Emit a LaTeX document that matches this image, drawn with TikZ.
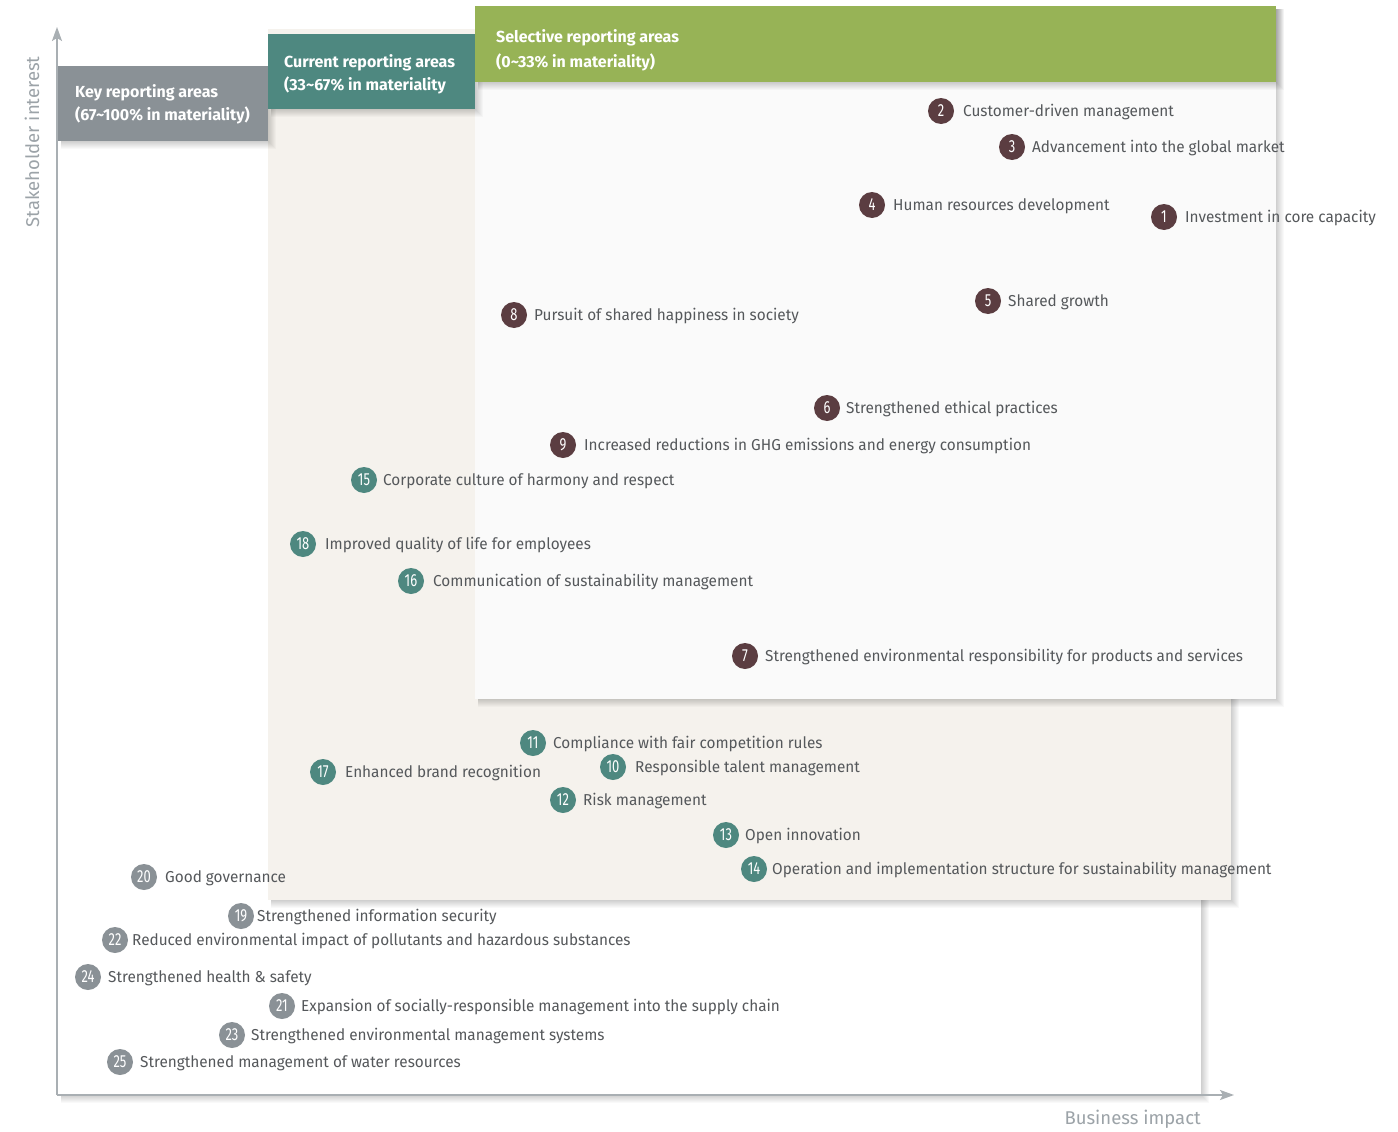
\documentclass[tikz,border=0pt]{standalone}
\usepackage{fontspec}
\setmainfont{Fira Sans}
\newfontfamily\lblfont{Fira Sans}[FakeStretch=0.97]
\newfontfamily\numfont{Fira Sans}[FakeStretch=0.74]
\usetikzlibrary{arrows.meta}

\definecolor{brownc}{HTML}{5B3D41}
\definecolor{tealc}{HTML}{4E8880}
\definecolor{grayc}{HTML}{8A9196}
\definecolor{greenc}{HTML}{97B356}
\definecolor{beige}{HTML}{F5F2ED}
\definecolor{paper}{HTML}{FAFAFA}
\definecolor{txt}{HTML}{55585B}
\definecolor{axisc}{HTML}{A9AFB3}
\definecolor{axislbl}{HTML}{9CA3A8}

\tikzset{
  bullet/.style={circle, inner sep=0pt, minimum size=26pt, text=white,
    font=\numfont\fontsize{17.5}{17.5}\selectfont},
  lbl/.style={anchor=mid west, inner sep=0pt, text=txt,
    font=\lblfont\fontsize{15.8}{18}\selectfont},
  hdrbox/.style={anchor=north west, inner sep=0pt},
  hdrtext/.style={anchor=base west, inner sep=0pt, text=white,
    font=\bfseries\fontsize{16}{18}\selectfont},
  axisline/.style={draw=axisc, line width=1.4pt,
    -{Stealth[length=14pt,width=10pt,inset=3pt]}},
  axistext/.style={text=axislbl, font=\fontsize{18.5}{20}\selectfont, inner sep=0pt}
}

% soft shadow falling to the lower right of a box
\newcommand\softshadow[4]{%
  \foreach \s in {0,...,8}{%
    \fill[black,opacity=0.022] (#1+3,#2+3) rectangle (#3+\s,#4+\s);}}

% one numbered issue: name, colour, x, y, number, text x, text
\newcommand\issue[7]{%
  \node[bullet,fill=#2] (n#1) at (#3,#4) {#5};
  \node[lbl] (t#1) at (#6,#4+3) {#7};}

\begin{document}
\begin{tikzpicture}[x=1pt,y=-1pt]
\useasboundingbox (0,0) rectangle (1398,1132);
\fill[white] (0,0) rectangle (1398,1132);

% key reporting area (whole field)
\softshadow{58}{55}{1201}{1095}
\fill[white] (58,55) rectangle (1201,1095);

% axes
\coordinate (origin) at (57,1095);
\coordinate (ytop) at (57,27);
\coordinate (xend) at (1234,1095);
\draw[axisline] (origin) -- (ytop);
\draw[axisline] (origin) -- (xend);
\node[axistext, rotate=90] (ylab) at (32,142) {Stakeholder interest};
\node[axistext, anchor=east] (xlab) at (1201,1119) {Business impact};

% current reporting area
\softshadow{268}{29}{1231}{900}
\fill[beige] (268,29) rectangle (1231,900);

% selective reporting area
\softshadow{475}{6}{1276}{699}
\fill[paper] (475,6) rectangle (1276,699);

% headers
\softshadow{58}{66}{268}{141}
\node[hdrbox, fill=grayc, minimum width=210pt, minimum height=75pt] (hkey) at (58,66) {};
\node[hdrtext] (hkey1) at (75,97) {Key reporting areas};
\node[hdrtext] (hkey2) at (75,121) {(67\textasciitilde100\% in materiality)};

\softshadow{268}{34}{475}{109}
\node[hdrbox, fill=tealc, minimum width=207pt, minimum height=75pt] (hcur) at (268,34) {};
\node[hdrtext] (hcur1) at (284,67) {Current reporting areas};
\node[hdrtext] (hcur2) at (284,91) {(33\textasciitilde67\% in materiality};

\softshadow{475}{6}{1276}{82}
\node[hdrbox, fill=greenc, minimum width=801pt, minimum height=76pt] (hsel) at (475,6) {};
\node[hdrtext] (hsel1) at (496,43) {Selective reporting areas};
\node[hdrtext] (hsel2) at (496,67) {(0\textasciitilde33\% in materiality)};

% selective issues
\issue{1}{brownc}{1164}{217}{1}{1185}{Investment in core capacity}
\issue{2}{brownc}{941}{111}{2}{963}{Customer-driven management}
\issue{3}{brownc}{1012}{147}{3}{1032}{Advancement into the global market}
\issue{4}{brownc}{872}{205}{4}{893}{Human resources development}
\issue{5}{brownc}{988}{301}{5}{1008}{Shared growth}
\issue{6}{brownc}{827}{408}{6}{846}{Strengthened ethical practices}
\issue{7}{brownc}{745}{656}{7}{765}{Strengthened environmental responsibility for products and services}
\issue{8}{brownc}{514}{315}{8}{534}{Pursuit of shared happiness in society}
\issue{9}{brownc}{563}{445}{9}{584}{Increased reductions in GHG emissions and energy consumption}

% current issues
\issue{10}{tealc}{613}{767}{10}{635}{Responsible talent management}
\issue{11}{tealc}{533}{743}{11}{553}{Compliance with fair competition rules}
\issue{12}{tealc}{563}{800}{12}{583}{Risk management}
\issue{13}{tealc}{726}{835}{13}{745}{Open innovation}
\issue{14}{tealc}{754}{869}{14}{772}{Operation and implementation structure for sustainability management}
\issue{15}{tealc}{364}{480}{15}{383}{Corporate culture of harmony and respect}
\issue{16}{tealc}{411}{581}{16}{433}{Communication of sustainability management}
\issue{17}{tealc}{323}{772}{17}{345}{Enhanced brand recognition}
\issue{18}{tealc}{303}{544}{18}{325}{Improved quality of life for employees}

% key issues
\issue{19}{grayc}{241}{916}{19}{257}{Strengthened information security}
\issue{20}{grayc}{144}{877}{20}{165}{Good governance}
\issue{21}{grayc}{282}{1006}{21}{301}{Expansion of socially-responsible management into the supply chain}
\issue{22}{grayc}{115}{940}{22}{132}{Reduced environmental impact of pollutants and hazardous substances}
\issue{23}{grayc}{232}{1035}{23}{251}{Strengthened environmental management systems}
\issue{24}{grayc}{88}{977}{24}{108}{Strengthened health \& safety}
\issue{25}{grayc}{120}{1062}{25}{140}{Strengthened management of water resources}
\end{tikzpicture}
\end{document}
